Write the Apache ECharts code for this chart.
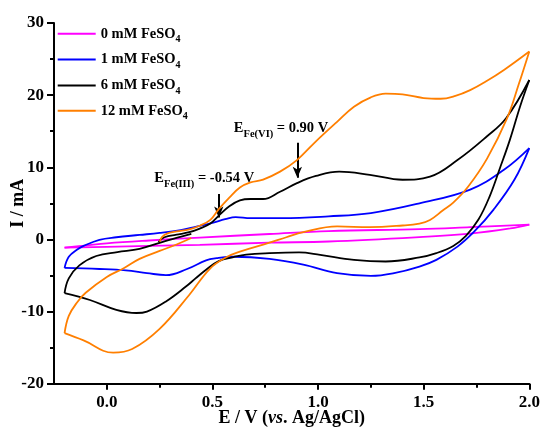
<!DOCTYPE html>
<html><head><meta charset="utf-8">
<script src="https://cdn.jsdelivr.net/npm/echarts@6/dist/echarts.min.js"></script>
<style>html,body{margin:0;padding:0;background:#fff}#c{width:541px;height:429px}</style>
</head><body><div id="c"></div>
<script>
// ---- data ----
const seriesNames = ['0 mM FeSO4', '1 mM FeSO4', '6 mM FeSO4', '12 mM FeSO4'];
const seriesColors = ['#ff00ff', '#0000ff', '#000000', '#ff7f00'];
const xMajorTicks = [0, 0.5, 1.0, 1.5, 2.0];
const xMinorTicks = [0.25, 0.75, 1.25, 1.75];

// 0 mM
const fe0Anodic = [[-0.20,-1.15],[-0.10,-0.85],[0.00,-0.55],[0.20,-0.15],[0.44,0.26],[0.77,0.75],[1.05,1.15],[1.48,1.43],[1.72,1.70],[2.00,2.05]];
const fe0Cathodic = [[2.00,2.05],[1.91,1.52],[1.72,0.80],[1.48,0.32],[1.05,-0.29],[0.77,-0.45],[0.44,-0.75],[0.20,-0.89],[0.00,-1.02],[-0.20,-1.15]];
// 1 mM
const fe1Anodic = [[-0.20,-3.95],[-0.18,-2.4],[-0.14,-1.4],[-0.11,-0.9],[-0.035,-0.05],[0.045,0.3],[0.155,0.62],[0.25,0.9],[0.35,1.3],[0.42,1.75],[0.50,2.3],[0.56,2.8],[0.61,3.1],[0.68,2.95],[0.83,2.95],[1.05,3.2],[1.25,3.65],[1.48,5.0],[1.72,6.9],[1.88,9.65],[2.00,12.66]];
const fe1Cathodic = [[2.00,12.66],[1.93,8.3],[1.83,4.1],[1.74,1.1],[1.66,-1.0],[1.56,-2.83],[1.48,-3.76],[1.36,-4.67],[1.25,-5.05],[1.09,-4.67],[0.93,-3.5],[0.77,-2.7],[0.60,-2.4],[0.52,-2.6],[0.47,-2.9],[0.38,-4.1],[0.28,-4.95],[0.19,-4.67],[0.09,-4.3],[-0.035,-4.1],[-0.20,-3.95]];
// 6 mM
const fe6Anodic = [[0.245,-0.4],[0.26,0.1],[0.29,0.45],[0.34,0.7],[0.39,1.0],[0.44,1.5],[0.49,2.2],[0.53,3.3],[0.58,4.6],[0.63,5.4],[0.68,5.6],[0.74,5.6],[0.82,6.6],[0.90,7.8],[0.99,8.8],[1.10,9.4],[1.245,8.96],[1.40,8.27],[1.53,8.7],[1.66,11.0],[1.80,14.3],[1.89,16.8],[2.00,22.1]];
const fe6Cathodic = [[2.00,22.1],[1.956,18.4],[1.908,13.8],[1.86,9.8],[1.81,5.8],[1.76,2.8],[1.70,0.5],[1.64,-0.9],[1.56,-1.9],[1.48,-2.5],[1.32,-3.06],[1.17,-2.83],[1.01,-2.14],[0.91,-1.8],[0.77,-1.9],[0.66,-2.1],[0.60,-2.45],[0.53,-3.0],[0.47,-4.2],[0.42,-5.4],[0.376,-6.5],[0.28,-8.6],[0.19,-10.0],[0.14,-10.2],[0.045,-9.76],[-0.08,-8.4],[-0.20,-7.45]];
const fe6Return = [[-0.20,-7.45],[-0.18,-5.4],[-0.13,-3.6],[-0.05,-2.3],[0.05,-1.75],[0.155,-1.3],[0.28,-0.2],[0.40,0.78]];
// 12 mM
const fe12Anodic = [[0.25,-0.3],[0.262,0.35],[0.285,0.8],[0.33,1.1],[0.39,1.4],[0.44,1.9],[0.49,2.7],[0.53,4.2],[0.58,5.8],[0.63,7.2],[0.68,7.9],[0.74,8.3],[0.82,9.4],[0.90,11.0],[0.99,13.6],[1.09,16.3],[1.17,18.4],[1.25,19.7],[1.32,20.2],[1.40,20.1],[1.50,19.6],[1.58,19.5],[1.65,19.9],[1.72,20.7],[1.80,22.0],[1.88,23.5],[2.00,26.06]];
const fe12Cathodic = [[2.00,26.06],[1.95,21.5],[1.895,16.8],[1.80,11.2],[1.71,7.3],[1.64,5.1],[1.59,4.0],[1.53,2.7],[1.48,2.2],[1.40,1.93],[1.245,1.7],[1.09,1.8],[0.93,1.0],[0.85,0.3],[0.77,-0.45],[0.63,-1.68],[0.57,-2.4],[0.49,-4.0],[0.39,-7.7],[0.25,-12.4],[0.12,-15.2],[0.03,-15.7],[-0.11,-14.0],[-0.20,-13.0]];
const fe12Return = [[-0.20,-13.0],[-0.18,-10.6],[-0.14,-8.7],[-0.10,-7.4],[0.00,-5.2],[0.08,-4.0],[0.155,-2.7],[0.25,-1.6],[0.33,-0.7],[0.40,0.2]];

// ---- chart ----
const FONT = '"Liberation Serif", "Times New Roman", serif';
const curves = [
  { name: seriesNames[0], color: seriesColors[0], segments: [fe0Anodic, fe0Cathodic] },
  { name: seriesNames[1], color: seriesColors[1], segments: [fe1Anodic, fe1Cathodic] },
  { name: seriesNames[2], color: seriesColors[2], segments: [fe6Anodic, fe6Cathodic, fe6Return] },
  { name: seriesNames[3], color: seriesColors[3], segments: [fe12Anodic, fe12Cathodic, fe12Return] }
];

const series = [];
curves.forEach((c, ci) => {
  c.segments.forEach(seg => {
    series.push({
      type: 'line', name: c.name, data: seg, symbol: 'none', smooth: 0.4,
      color: c.color, lineStyle: { color: c.color, width: 1.8 },
      xAxisIndex: 0, yAxisIndex: 0, z: 2 + ci, animation: false,
      emphasis: { disabled: true }
    });
  });
});
// arrows
series.push({
  type: 'line', name: 'arrows', data: [], symbol: 'none', xAxisIndex: 0, yAxisIndex: 0, z: 10, animation: false,
  markLine: {
    silent: true, animation: false, symbol: ['none', 'arrow'], symbolSize: [7, 11],
    lineStyle: { color: '#000', width: 2, type: 'solid' }, label: { show: false },
    emphasis: { disabled: true },
    data: [
      [{ coord: [0.902, 13.4] }, { coord: [0.902, 8.55] }],
      [{ coord: [0.53, 6.3] }, { coord: [0.53, 3.05] }]
    ]
  }
});

const legendRich = {
  m: { fontFamily: FONT, fontWeight: 'bold', fontSize: 14.5, lineHeight: 22, color: '#000' },
  s: { fontFamily: FONT, fontWeight: 'bold', fontSize: 10, lineHeight: 22, verticalAlign: 'bottom', color: '#000' }
};
const legendTops = [26.3, 52, 78, 103.3];
const legends = seriesNames.map((n, i) => ({
  data: [n], left: 57.7, top: legendTops[i], orient: 'vertical', padding: 0,
  icon: 'rect', itemWidth: 38, itemHeight: 2, selectedMode: false,
  formatter: name => '{m|' + name.slice(0, -1) + '}{s|' + name.slice(-1) + '}',
  textStyle: { fontFamily: FONT, fontWeight: 'bold', fontSize: 14.5, color: '#000', rich: legendRich }
}));

const annRich = {
  e: { fontFamily: FONT, fontWeight: 'bold', fontSize: 14.5, lineHeight: 22, fill: '#000', color: '#000' },
  s: { fontFamily: FONT, fontWeight: 'bold', fontSize: 10.5, lineHeight: 22, verticalAlign: 'bottom', fill: '#000', color: '#000' }
};

const axisTxt = { fontFamily: FONT, fontWeight: 'bold', fontSize: 17, color: '#000' };
const option = {
  animation: false,
  backgroundColor: '#fff',
  grid: { left: 54, right: 11.7, top: 23, bottom: 45.3, containLabel: false, outerBoundsMode: 'none' },
  legend: legends,
  xAxis: [{
    type: 'value', min: -0.25, max: 2.0, position: 'bottom',
    axisLine: { show: true, onZero: false, lineStyle: { color: '#000', width: 2 } },
    axisTick: { show: true, inside: false, length: 6, customValues: xMajorTicks, lineStyle: { color: '#000', width: 2 } },
    axisLabel: { show: true, customValues: xMajorTicks, margin: 10, formatter: v => Number(v).toFixed(1), ...axisTxt },
    splitLine: { show: false },
    name: '{n|E / V (}{i|vs}{n|. Ag/AgCl)}', nameLocation: 'middle', nameGap: 26, nameMoveOverlap: false,
    nameTextStyle: { rich: {
      n: { fontFamily: FONT, fontWeight: 'bold', fontSize: 18, color: '#000' },
      i: { fontFamily: FONT, fontWeight: 'bold', fontStyle: 'italic', fontSize: 18, color: '#000' }
    } }
  }, {
    type: 'value', min: -0.25, max: 2.0, position: 'bottom',
    axisLine: { show: false, onZero: false },
    axisTick: { show: true, inside: false, length: 4, customValues: xMinorTicks, lineStyle: { color: '#000', width: 2 } },
    axisLabel: { show: false },
    splitLine: { show: false }
  }],
  yAxis: [{
    type: 'value', min: -20, max: 30, interval: 10, position: 'left',
    axisLine: { show: true, onZero: false, lineStyle: { color: '#000', width: 2 } },
    axisTick: { show: true, inside: false, length: 7, lineStyle: { color: '#000', width: 2 } },
    minorTick: { show: true, splitNumber: 2, length: 4, lineStyle: { color: '#000', width: 2 } },
    axisLabel: { margin: 10, ...axisTxt },
    splitLine: { show: false }, minorSplitLine: { show: false },
    name: 'I / mA', nameLocation: 'middle', nameGap: 27, nameMoveOverlap: false,
    nameTextStyle: { fontFamily: FONT, fontWeight: 'bold', fontSize: 18, color: '#000' }
  }],
  graphic: [
    { type: 'text', x: 281, y: 128.5, z: 20, silent: true,
      style: { text: '{e|E}{s|Fe(VI)}{e| = 0.90 V}', rich: annRich, align: 'center', verticalAlign: 'middle', fill: '#000',
               font: 'bold 14px ' + FONT } },
    { type: 'text', x: 204.2, y: 178.3, z: 20, silent: true,
      style: { text: '{e|E}{s|Fe(III)}{e| = -0.54 V}', rich: annRich, align: 'center', verticalAlign: 'middle', fill: '#000',
               font: 'bold 14px ' + FONT } }
  ],
  series: series
};

const chart = echarts.init(document.getElementById('c'), null, { renderer: 'canvas' });
chart.setOption(option);
</script></body></html>
